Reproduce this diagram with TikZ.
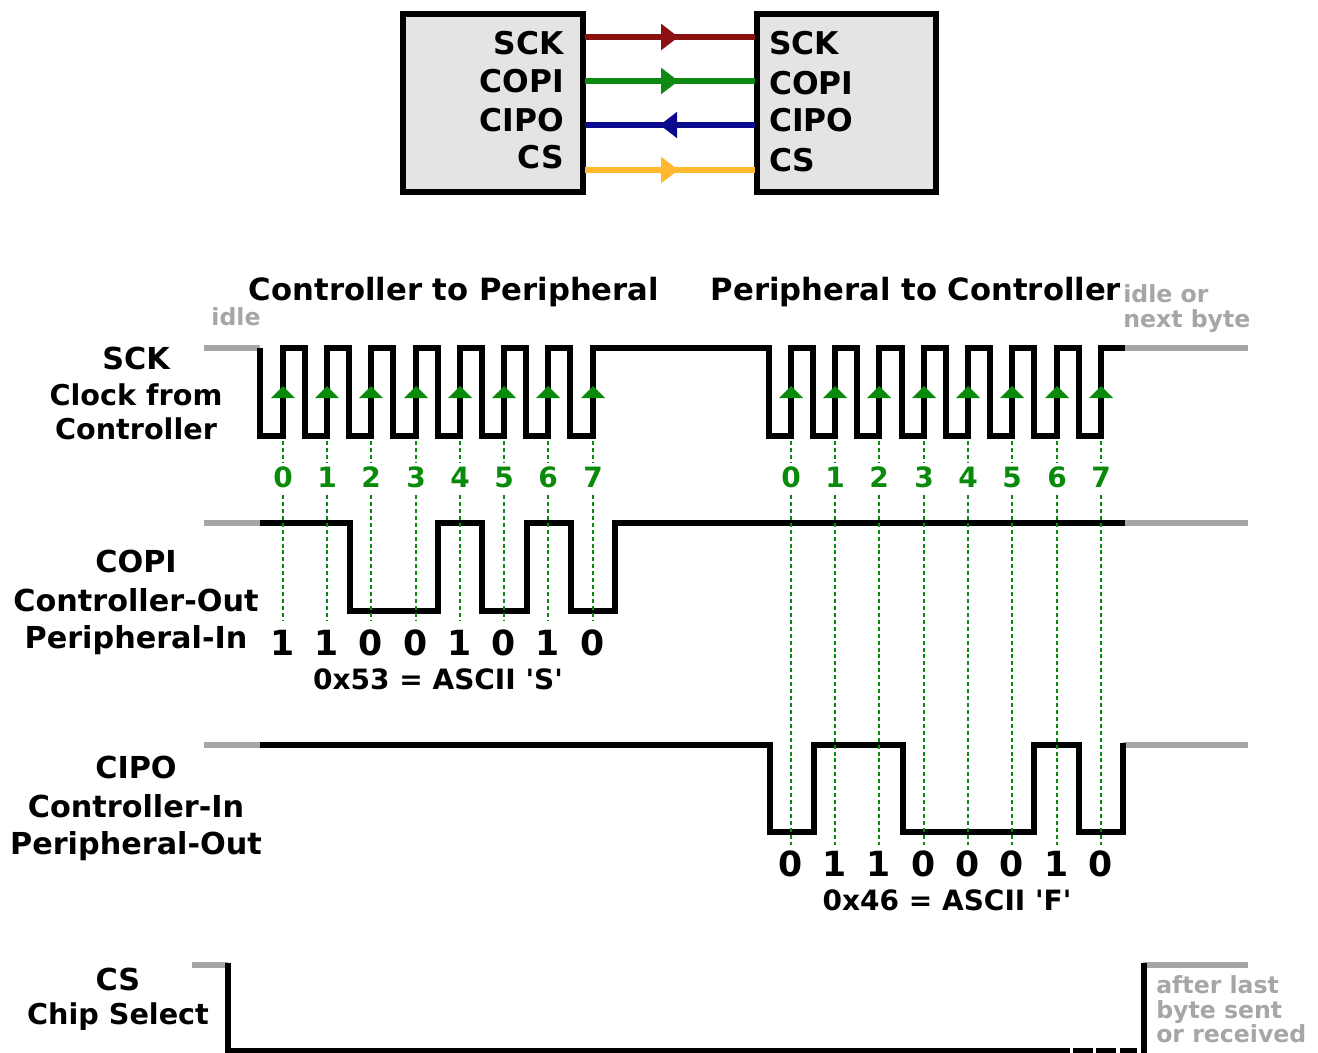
\documentclass[tikz,border=0pt]{standalone}
\usepackage{fontspec}
\setmainfont{DejaVu Sans Bold}
\usetikzlibrary{arrows.meta,decorations.markings}
\definecolor{wireRed}{HTML}{8B1010}
\definecolor{wireGreen}{HTML}{0E8A12}
\definecolor{wireBlue}{HTML}{0A0A8C}
\definecolor{wireYellow}{HTML}{FFB92E}
\definecolor{bitGreen}{HTML}{0A8A0A}
\definecolor{idleGrey}{HTML}{A6A6A6}
\definecolor{boxGrey}{HTML}{E4E4E4}
\tikzset{
  chipbox/.style={draw=black, fill=boxGrey, line width=4.4pt, line join=miter},
  pinleft/.style={anchor=east, font=\fontsize{23.5}{23.5}\selectfont, inner sep=0pt},
  pinright/.style={anchor=west, font=\fontsize{23.5}{23.5}\selectfont, inner sep=0pt},
  wire/.style={line width=4.2pt},
  wirehead/.style={postaction={decorate, decoration={markings, mark=at position #1 with {\arrow{Triangle[length=13pt,width=19pt]}}}}},
  wave/.style={draw=black, line width=4pt, line join=miter},
  idlewave/.style={draw=idleGrey, line width=4pt},
  tick/.style={draw=bitGreen, line width=1.3pt, dash pattern=on 3pt off 2.2pt},
  titletext/.style={font=\fontsize{23}{23}\selectfont, inner sep=0pt},
  signame/.style={font=\fontsize{22.7}{22.7}\selectfont, inner sep=0pt},
  sigtext/.style={font=\fontsize{21.5}{21.5}\selectfont, inner sep=0pt},
  bitnum/.style={font=\fontsize{21}{21}\selectfont, text=bitGreen, inner sep=0pt},
  bitval/.style={font=\fontsize{26}{26}\selectfont, inner sep=0pt},
  bytetext/.style={font=\fontsize{21}{21}\selectfont, inner sep=0pt},
  greytext/.style={font=\fontsize{17.7}{17.7}\selectfont, text=idleGrey, inner sep=0pt},
}
\begin{document}
\begin{tikzpicture}[x=0.75pt, y=-0.75pt]
  \useasboundingbox (0,0) rectangle (1318,1053);

  % chips
  \draw[chipbox] (403,14) rectangle (583,192);
  \draw[chipbox] (757,14) rectangle (936,192);
  \node[pinleft] (ctrlSCK) at (564,43) {SCK};
  \node[pinleft] (ctrlCOPI) at (564,81) {COPI};
  \node[pinleft] (ctrlCIPO) at (564,120) {CIPO};
  \node[pinleft] (ctrlCS) at (564,157) {CS};
  \node[pinright] (periSCK) at (769,43) {SCK};
  \node[pinright] (periCOPI) at (769,83) {COPI};
  \node[pinright] (periCIPO) at (769,120) {CIPO};
  \node[pinright] (periCS) at (769,160) {CS};

  % wires
  \coordinate (wireA) at (585,37);
  \coordinate (wireB) at (755,37);
  \coordinate (wireC) at (585,81);
  \coordinate (wireD) at (755,81);
  \coordinate (wireE) at (585,125);
  \coordinate (wireF) at (755,125);
  \coordinate (wireG) at (585,170);
  \coordinate (wireH) at (755,170);
  \draw[wire, wireRed, wirehead=0.55] (wireA) -- (wireB);
  \draw[wire, wireGreen, wirehead=0.55] (wireC) -- (wireD);
  \draw[wire, wireBlue, wirehead=0.56] (wireF) -- (wireE);
  \draw[wire, wireYellow, wirehead=0.55] (wireG) -- (wireH);

  % titles
  \node[titletext] (titleOut) at (454,292) {Controller to Peripheral};
  \node[titletext] (titleIn) at (916,292) {Peripheral to Controller};
  \node[greytext] (idleA) at (236,317) {idle};
  \node[greytext, anchor=west] (idleB) at (1123,294) {idle or};
  \node[greytext, anchor=west] (idleC) at (1123,321) {next byte};

  % clock
  \draw[idlewave] (204,348) -- (260,348);
  \draw[idlewave] (1125,348) -- (1248,348);
  \draw[wave] (260,348) foreach \a/\b in {260/283,305/327,349/371,393/416,438/460,482/504,526/548,570/593,769/791,813/835,857/879,902/924,946/968,990/1012,1034/1057,1079/1101} { -- (\a,348) -- (\a,436) -- (\b,436) -- (\b,348) } -- (1125,348);

  % data lines
  \draw[idlewave] (204,523) -- (260,523);
  \draw[idlewave] (1125,523) -- (1248,523);
  \draw[wave] (260,523) -- (350,523) -- (350,611) -- (438,611) -- (438,523) -- (482,523) -- (482,611) -- (527,611) -- (527,523) -- (571,523) -- (571,611) -- (615,611) -- (615,523) -- (1125,523);
  \draw[idlewave] (204,745) -- (260,745);
  \draw[idlewave] (1123,745) -- (1248,745);
  \draw[wave] (260,745) -- (770,745) -- (770,832) -- (814,832) -- (814,745) -- (903,745) -- (903,832) -- (1034,832) -- (1034,745) -- (1079,745) -- (1079,832) -- (1123,832) -- (1123,743);

  % chip select
  \draw[idlewave] (192,965) -- (228,965);
  \draw[idlewave] (1143,965) -- (1248,965);
  \draw[wave] (228,963) -- (228,1051) -- (1070,1051);
  \draw[wave, dash pattern=on 15pt off 2.5pt] (1073,1051) -- (1137,1051);
  \draw[wave] (1144,1053) -- (1144,963);

  % bit numbers and sampling marks
  \foreach \x [count=\n from 0] in {283,327,371,416,460,504,548,593} {
    \node[bitnum] (numA\n) at (\x,477) {\n};
    \draw[tick] (\x,441) -- (\x,462);
    \draw[tick] (\x,495) -- (\x,620);
    \fill[bitGreen] (\x,386) -- (\x+12,398) -- (\x-12,398) -- cycle;
  }
  \foreach \x [count=\n from 0] in {791,835,879,924,968,1012,1057,1101} {
    \node[bitnum] (numB\n) at (\x,477) {\n};
    \draw[tick] (\x,441) -- (\x,462);
    \draw[tick] (\x,495) -- (\x,845);
    \fill[bitGreen] (\x,386) -- (\x+12,398) -- (\x-12,398) -- cycle;
  }

  % bit values
  \foreach \x/\v [count=\n] in {283/1,327/1,371/0,416/0,460/1,504/0,548/1,593/0} {
    \node[bitval] (valA\n) at (\x,643) {\v};
  }
  \foreach \x/\v [count=\n] in {791/0,835/1,879/1,924/0,968/0,1012/0,1057/1,1101/0} {
    \node[bitval] (valB\n) at (\x,864) {\v};
  }
  \node[bytetext] (byteA) at (438,679) {0x53 = ASCII \textquotesingle S\textquotesingle};
  \node[bytetext] (byteB) at (947,900) {0x46 = ASCII \textquotesingle F\textquotesingle};

  % signal names
  \node[signame] (nameSCK) at (136,358) {SCK};
  \node[sigtext] (nameSCKa) at (136,395) {Clock from};
  \node[sigtext] (nameSCKb) at (136,429) {Controller};
  \node[signame] (nameCOPI) at (136,561) {COPI};
  \node[signame] (nameCOPIa) at (136,600) {Controller-Out};
  \node[signame] (nameCOPIb) at (136,640) {Peripheral-In};
  \node[signame] (nameCIPO) at (136,767) {CIPO};
  \node[signame] (nameCIPOa) at (136,806) {Controller-In};
  \node[signame] (nameCIPOb) at (136,846) {Peripheral-Out};
  \node[signame] (nameCS) at (118,979) {CS};
  \node[sigtext] (nameCSa) at (118,1017) {Chip Select};
  \node[greytext, anchor=west] (doneA) at (1156,985) {after last};
  \node[greytext, anchor=west] (doneB) at (1156,1012) {byte sent};
  \node[greytext, anchor=west] (doneC) at (1156,1034) {or received};
\end{tikzpicture}
\end{document}
